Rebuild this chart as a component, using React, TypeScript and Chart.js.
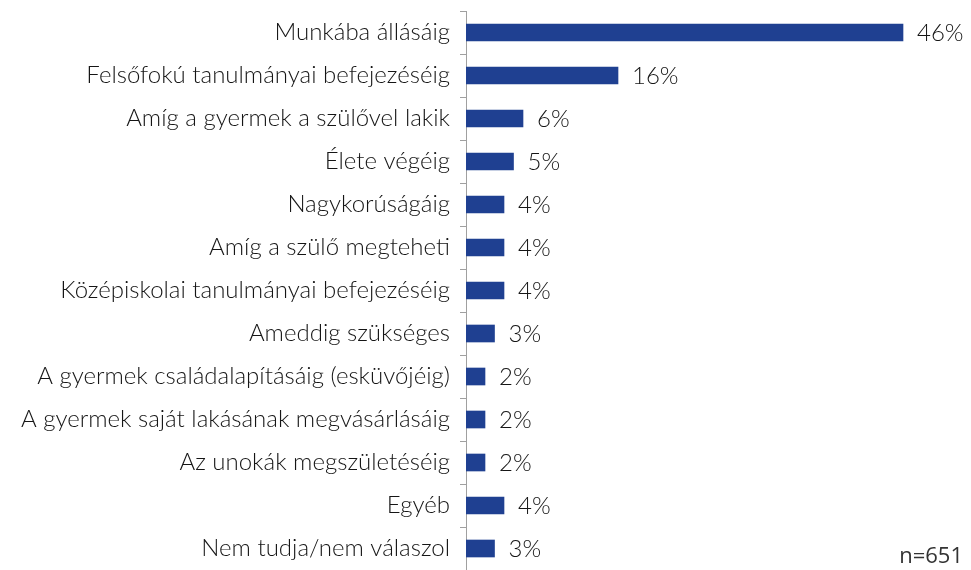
import React, { useEffect, useRef } from "react";
import { Chart, registerables } from "chart.js";

Chart.register(...registerables);

const categories: string[] = [
  "Munkába állásáig",
  "Felsőfokú tanulmányai befejezéséig",
  "Amíg a gyermek a szülővel lakik",
  "Élete végéig",
  "Nagykorúságáig",
  "Amíg a szülő megteheti",
  "Középiskolai tanulmányai befejezéséig",
  "Ameddig szükséges",
  "A gyermek családalapításáig (esküvőjéig)",
  "A gyermek saját lakásának megvásárlásáig",
  "Az unokák megszületéséig",
  "Egyéb",
  "Nem tudja/nem válaszol",
];

const values: number[] = [46, 16, 6, 5, 4, 4, 4, 3, 2, 2, 2, 4, 3];

const sampleNote = "n=651";

const FONT = "Lato, 'Open Sans', sans-serif";

const valueLabels = {
  id: "valueLabels",
  afterDatasetsDraw(chart: any) {
    const ctx = chart.ctx;
    const meta = chart.getDatasetMeta(0);
    ctx.save();
    ctx.font = `300 24px ${FONT}`;
    ctx.fillStyle = "#151515";
    ctx.textBaseline = "middle";
    ctx.textAlign = "left";
    meta.data.forEach((bar: any, i: number) => {
      ctx.fillText(values[i] + "%", bar.x + 14, bar.y + 1);
    });
    ctx.font = `22px 'Open Sans', sans-serif`;
    ctx.textAlign = "right";
    ctx.fillStyle = "#333333";
    ctx.fillText(sampleNote, 963, 557);
    ctx.restore();
  },
};

export default function App() {
  const ref = useRef<HTMLCanvasElement | null>(null);
  useEffect(() => {
    document.body.style.margin = "0";
    const chart = new Chart(ref.current as HTMLCanvasElement, {
      type: "bar",
      data: {
        labels: categories,
        datasets: [
          {
            data: values,
            backgroundColor: "#1f4091",
            barThickness: 17,
          },
        ],
      },
      options: {
        indexAxis: "y",
        animation: false,
        responsive: false,
        layout: { padding: { top: 11, right: 30, bottom: 0, left: 0 } },
        plugins: { legend: { display: false }, tooltip: { enabled: false } },
        scales: {
          x: { display: false, min: 0, max: 50 },
          y: {
            afterFit(scale: any) {
              scale.width = 466;
              scale.paddingTop = 0;
              scale.paddingBottom = 0;
            },
            grid: {
              offset: true,
              drawOnChartArea: false,
              tickLength: 6,
              color: "#a0a0a0",
            },
            border: { color: "#a0a0a0", width: 1 },
            ticks: {
              padding: 10,
              color: "#151515",
              font: { family: FONT, size: 24, weight: "300" as any },
            },
          },
        },
      },
      plugins: [valueLabels],
    });
    return () => chart.destroy();
  }, []);
  return <canvas ref={ref} width={971} height={570} style={{ display: "block" }} />;
}
